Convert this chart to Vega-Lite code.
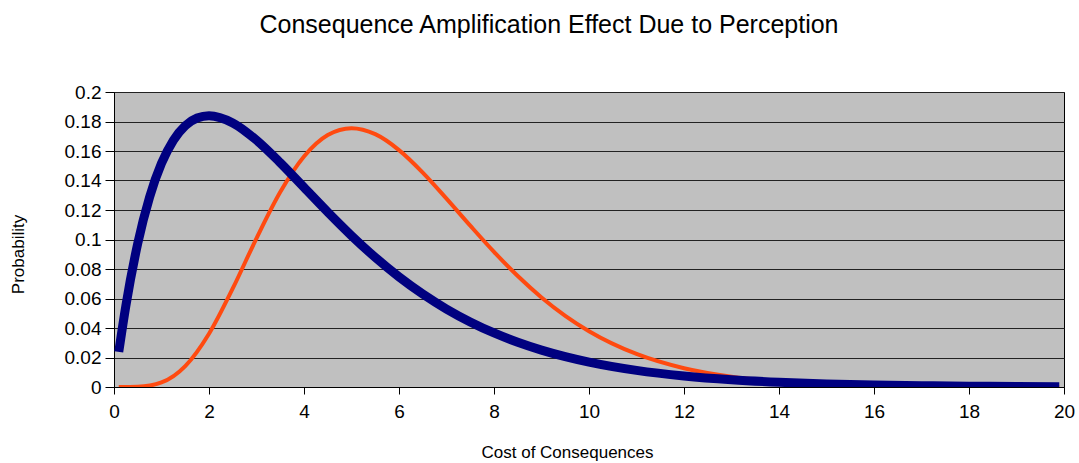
{
  "$schema": "https://vega.github.io/schema/vega-lite/v6.json",
  "autosize": "none",
  "width": 950,
  "height": 295,
  "padding": {"left": 114, "top": 92, "right": 15, "bottom": 76},
  "background": "white",
  "title": {
    "text": "Consequence Amplification Effect Due to Perception",
    "font": "Liberation Sans",
    "fontSize": 25,
    "fontWeight": "normal",
    "color": "black",
    "anchor": "middle",
    "dx": -40,
    "offset": 45
  },
  "config": {
    "view": {"fill": "#C0C0C0", "stroke": "black", "strokeWidth": 1},
    "axis": {
      "labelFont": "Liberation Sans",
      "labelFontSize": 19,
      "labelColor": "black",
      "titleFont": "Liberation Sans",
      "titleFontSize": 17,
      "titleFontWeight": "normal",
      "titleColor": "black",
      "domainColor": "black",
      "tickColor": "black",
      "gridColor": "#222222",
      "gridWidth": 1,
      "gridOpacity": 1
    }
  },
  "data": {
    "values": [
      {"cost": 0.1, "p": 0.02378, "series": "Actual"},
      {"cost": 0.25, "p": 0.05516, "series": "Actual"},
      {"cost": 0.5, "p": 0.09735, "series": "Actual"},
      {"cost": 0.75, "p": 0.12887, "series": "Actual"},
      {"cost": 1, "p": 0.15163, "series": "Actual"},
      {"cost": 1.25, "p": 0.16727, "series": "Actual"},
      {"cost": 1.5, "p": 0.17714, "series": "Actual"},
      {"cost": 1.75, "p": 0.18238, "series": "Actual"},
      {"cost": 2, "p": 0.18394, "series": "Actual"},
      {"cost": 2.5, "p": 0.17906, "series": "Actual"},
      {"cost": 3, "p": 0.16735, "series": "Actual"},
      {"cost": 3.5, "p": 0.15205, "series": "Actual"},
      {"cost": 4, "p": 0.13534, "series": "Actual"},
      {"cost": 4.5, "p": 0.11858, "series": "Actual"},
      {"cost": 5, "p": 0.10261, "series": "Actual"},
      {"cost": 5.5, "p": 0.0879, "series": "Actual"},
      {"cost": 6, "p": 0.07468, "series": "Actual"},
      {"cost": 6.5, "p": 0.06301, "series": "Actual"},
      {"cost": 7, "p": 0.05284, "series": "Actual"},
      {"cost": 7.5, "p": 0.0441, "series": "Actual"},
      {"cost": 8, "p": 0.03663, "series": "Actual"},
      {"cost": 8.5, "p": 0.03031, "series": "Actual"},
      {"cost": 9, "p": 0.025, "series": "Actual"},
      {"cost": 9.5, "p": 0.02055, "series": "Actual"},
      {"cost": 10, "p": 0.01684, "series": "Actual"},
      {"cost": 11, "p": 0.01124, "series": "Actual"},
      {"cost": 12, "p": 0.00744, "series": "Actual"},
      {"cost": 13, "p": 0.00489, "series": "Actual"},
      {"cost": 14, "p": 0.00319, "series": "Actual"},
      {"cost": 15, "p": 0.00207, "series": "Actual"},
      {"cost": 16, "p": 0.00134, "series": "Actual"},
      {"cost": 17, "p": 0.00086, "series": "Actual"},
      {"cost": 18, "p": 0.00056, "series": "Actual"},
      {"cost": 19, "p": 0.00036, "series": "Actual"},
      {"cost": 19.9, "p": 0.00024, "series": "Actual"},
      {"cost": 0.1, "p": 0.0, "series": "Perceived"},
      {"cost": 0.5, "p": 0.00016, "series": "Perceived"},
      {"cost": 1, "p": 0.00307, "series": "Perceived"},
      {"cost": 1.5, "p": 0.01412, "series": "Perceived"},
      {"cost": 2, "p": 0.03609, "series": "Perceived"},
      {"cost": 2.5, "p": 0.0668, "series": "Perceived"},
      {"cost": 3, "p": 0.10082, "series": "Perceived"},
      {"cost": 3.5, "p": 0.13217, "series": "Perceived"},
      {"cost": 4, "p": 0.15629, "series": "Perceived"},
      {"cost": 4.5, "p": 0.17083, "series": "Perceived"},
      {"cost": 5, "p": 0.17547, "series": "Perceived"},
      {"cost": 5.5, "p": 0.1714, "series": "Perceived"},
      {"cost": 6, "p": 0.16063, "series": "Perceived"},
      {"cost": 6.5, "p": 0.14537, "series": "Perceived"},
      {"cost": 7, "p": 0.12772, "series": "Perceived"},
      {"cost": 7.5, "p": 0.10938, "series": "Perceived"},
      {"cost": 8, "p": 0.0916, "series": "Perceived"},
      {"cost": 8.5, "p": 0.07523, "series": "Perceived"},
      {"cost": 9, "p": 0.06073, "series": "Perceived"},
      {"cost": 9.5, "p": 0.04827, "series": "Perceived"},
      {"cost": 10, "p": 0.03783, "series": "Perceived"},
      {"cost": 11, "p": 0.02242, "series": "Perceived"},
      {"cost": 12, "p": 0.01274, "series": "Perceived"},
      {"cost": 13, "p": 0.00699, "series": "Perceived"},
      {"cost": 14, "p": 0.00373, "series": "Perceived"},
      {"cost": 15, "p": 0.00194, "series": "Perceived"},
      {"cost": 16, "p": 0.00098, "series": "Perceived"},
      {"cost": 17, "p": 0.00049, "series": "Perceived"},
      {"cost": 18, "p": 0.00024, "series": "Perceived"},
      {"cost": 19, "p": 0.00012, "series": "Perceived"},
      {"cost": 19.9, "p": 0.00006, "series": "Perceived"}
    ]
  },
  "encoding": {
    "x": {
      "field": "cost",
      "type": "quantitative",
      "scale": {"domain": [0, 20], "nice": false, "zero": true},
      "axis": {
        "title": "Cost of Consequences",
        "values": [0, 2, 4, 6, 8, 10, 12, 14, 16, 18, 20],
        "grid": false,
        "tickSize": 7,
        "labelPadding": 8,
        "labelFlush": false,
        "titleX": 453,
        "titleY": 70,
        "titleBaseline": "alphabetic",
        "titleAnchor": "middle",
        "titleAlign": "center"
      }
    },
    "y": {
      "field": "p",
      "type": "quantitative",
      "scale": {"domain": [0, 0.2], "nice": false},
      "axis": {
        "title": "Probability",
        "values": [0, 0.02, 0.04, 0.06, 0.08, 0.1, 0.12, 0.14, 0.16, 0.18, 0.2],
        "format": "~g",
        "grid": true,
        "tickSize": 9,
        "labelPadding": 4,
        "labelFlush": false,
        "titleX": -87,
        "titleY": 162,
        "titleAlign": "center"
      }
    }
  },
  "layer": [
    {
      "transform": [{"filter": "datum.series === 'Perceived'"}],
      "mark": {"type": "line", "color": "#FF4A10", "strokeWidth": 4, "interpolate": "monotone", "clip": true}
    },
    {
      "transform": [{"filter": "datum.series === 'Actual'"}],
      "mark": {"type": "line", "color": "#000080", "strokeWidth": 9, "interpolate": "monotone", "strokeCap": "butt", "clip": true}
    }
  ]
}
